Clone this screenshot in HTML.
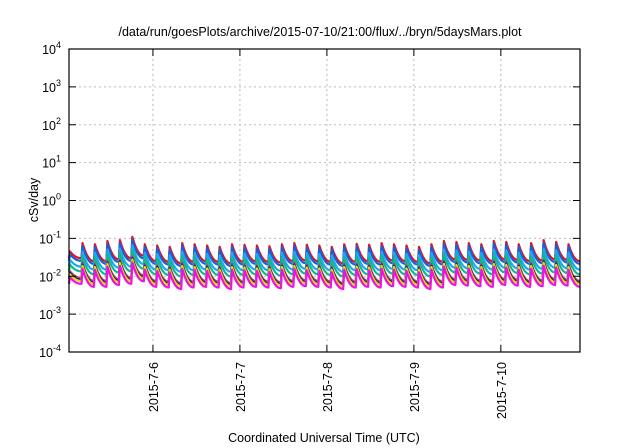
<!DOCTYPE html>
<html><head><meta charset="utf-8"><style>
body{margin:0;background:#fff}
svg{display:block;font-family:"Liberation Sans",sans-serif}
</style></head><body>
<svg id="chart" width="640" height="448" viewBox="0 0 640 448">
<rect width="640" height="448" fill="#fff"/>
<text x="320" y="36" font-size="12.5" text-anchor="middle">/data/run/goesPlots/archive/2015-07-10/21:00/flux/../bryn/5daysMars.plot</text>
<text transform="translate(38,200) rotate(-90)" font-size="12.5" text-anchor="middle">cSv/day</text>
<text x="324" y="442" font-size="12.5" text-anchor="middle">Coordinated Universal Time (UTC)</text>
<g id="grid"></g>
<g id="series"></g>
<rect x="69" y="49" width="511" height="303" fill="none" stroke="#000" stroke-width="1.2"/>
<g id="axes"></g>
</svg>
<script>
const xTickLabels=["2015-7-6","2015-7-7","2015-7-8","2015-7-9","2015-7-10"];
const xTickDays=[1,2,3,4,5];
const yTickExps=[-4,-3,-2,-1,0,1,2,3,4];
const peakVals=[0.045,0.075,0.07,0.085,0.09,0.11,0.07,0.065,0.06,0.075,0.07,0.065,0.06,0.07,0.068,0.065,0.062,0.07,0.075,0.068,0.065,0.06,0.07,0.072,0.068,0.075,0.07,0.065,0.06,0.07,0.085,0.08,0.075,0.07,0.085,0.08,0.07,0.075,0.09,0.08,0.07];
const troughVals=[0.03,0.025,0.025,0.028,0.03,0.035,0.025,0.024,0.022,0.024,0.025,0.024,0.022,0.024,0.025,0.024,0.023,0.025,0.026,0.025,0.024,0.022,0.024,0.025,0.024,0.026,0.025,0.024,0.022,0.024,0.028,0.027,0.026,0.025,0.028,0.027,0.025,0.026,0.028,0.027,0.025];
const seriesNames=["red","blue","light-blue","teal","brown","navy","yellow","magenta"];
const seriesFactors=[1,0.85,0.6,0.45,0.3,0.27,0.25,0.21];
const seriesColors=["#e4141b","#1a5fd8","#1ea8f0","#10b88c","#9a4a62","#1a1a8a","#e6d800","#ee10e8"];
const startDay=0.035, endDay=5.91, cycleLen=(endDay-startDay)/peakVals.length;
const X0=69,X1=580,Y0=352,Y1=49;
const xs=d=>X0+(d-startDay)/(endDay-startDay)*(X1-X0);
const ys=v=>Y0-(Math.log10(v)+4)/8*(Y0-Y1);
const NS="http://www.w3.org/2000/svg";
function mk(tag,attrs,parent){const e=document.createElementNS(NS,tag);for(const k in attrs)e.setAttribute(k,attrs[k]);parent.appendChild(e);return e;}
const grid=document.getElementById('grid'),axes=document.getElementById('axes'),ser=document.getElementById('series');
yTickExps.forEach(e=>{
  const y=ys(Math.pow(10,e));
  if(e>-4&&e<4){const g=mk('line',{x1:X0,x2:X1,y1:y,y2:y,stroke:'#bbb','stroke-dasharray':'2,3','stroke-width':1},grid);
  
  }
  mk('line',{x1:X0,x2:X0+7,y1:y,y2:y,stroke:'#000'},axes);
  mk('line',{x1:X1,x2:X1-7,y1:y,y2:y,stroke:'#000'},axes);
  const t=mk('text',{x:X0-8,y:y+5,'font-size':12.5,'text-anchor':'end'},axes);
  
  
  t.appendChild(document.createTextNode('10'));
  const s=mk('tspan',{dy:-6,'font-size':9},t);s.textContent=String(e);
});
xTickDays.forEach((d,i)=>{
  const x=xs(d);
  const g=mk('line',{x1:x,x2:x,y1:Y1,y2:Y0,stroke:'#bbb','stroke-dasharray':'2,3'},grid);
  
  
  mk('line',{x1:x,x2:x,y1:Y0,y2:Y0-7,stroke:'#000'},axes);
  mk('line',{x1:x,x2:x,y1:Y1,y2:Y1+7,stroke:'#000'},axes);
  const t=mk('text',{transform:`translate(${x+5},${Y0+10}) rotate(-90)`,'font-size':12.5,'text-anchor':'end'},axes);
  
  
  t.textContent=xTickLabels[i];
});
seriesFactors.forEach((f,si)=>{
  let pts=[];
  peakVals.forEach((p,i)=>{
    const t0=startDay+i*cycleLen;
    const prevT=i>0?troughVals[i-1]:troughVals[0];
    pts.push([xs(t0),ys(prevT*f)]);
    pts.push([xs(t0+cycleLen*0.08),ys(p*f)]);
    for(let k=1;k<=6;k++){
      const fr=k/6;const w=Math.pow(1-fr,2.2);
      const v=Math.exp(Math.log(troughVals[i])*(1-w)+Math.log(p)*w);
      pts.push([xs(t0+cycleLen*(0.08+0.92*fr)),ys(v*f)]);
    }
  });
  const pl=mk('polyline',{points:pts.map(q=>q[0].toFixed(1)+','+q[1].toFixed(1)).join(' '),fill:'none',stroke:seriesColors[si],'stroke-width':2.2,'stroke-linejoin':'round'},ser);
  
  
});
</script>
</body></html>
